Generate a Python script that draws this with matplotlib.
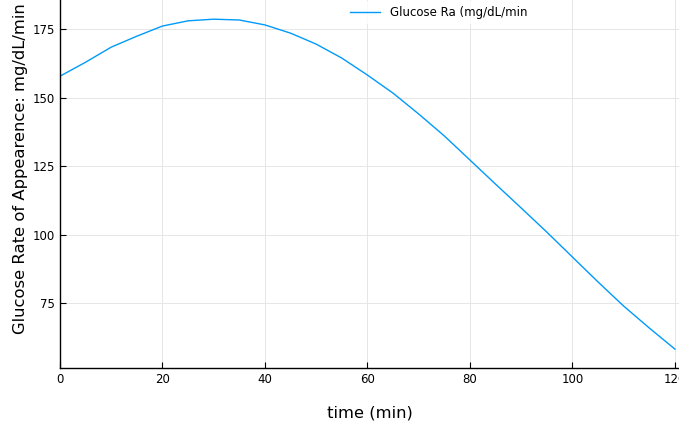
import numpy as np
import matplotlib.pyplot as plt

# values
time_min = [0, 5, 10, 15, 20, 25, 30, 35, 40, 45, 50, 55, 60,
            65, 70, 75, 80, 85, 90, 95, 100, 105, 110, 115, 120]
glucose_ra = [157.8, 162.9, 168.4, 172.4, 176.1, 178.0, 178.6, 178.3, 176.5,
              173.5, 169.5, 164.4, 158.2, 151.6, 144.0, 136.0, 127.2, 118.4,
              109.7, 100.9, 91.8, 82.7, 73.9, 65.9, 58.2]
x_ticks = [0, 20, 40, 60, 80, 100, 120]
y_ticks = [75, 100, 125, 150, 175]

fig = plt.figure(figsize=(6.79, 4.30), dpi=100)
ax = fig.add_axes([60 / 679, 62 / 430, 619 / 679, 368 / 430])

ax.plot(time_min, glucose_ra, color='#009AFA', lw=1.0, label='Glucose Ra (mg/dL/min')

ax.set_xlim(0, 120.8)
ax.set_ylim(51.3, 185.6)
ax.set_xticks(x_ticks)
ax.set_yticks(y_ticks)
ax.tick_params(direction='in', length=4, width=0.8, labelsize=8.5, colors='black')
ax.grid(True, color='#e6e6e6', lw=0.7)
ax.set_axisbelow(True)
for s in ['top', 'right']:
    ax.spines[s].set_visible(False)
for s in ['left', 'bottom']:
    ax.spines[s].set_linewidth(1.0)

ax.set_xlabel('time (min)', fontsize=11.8, labelpad=14)
ax.set_ylabel('Glucose Rate of Appearence: mg/dL/min', fontsize=11.8, va='center')
ax.yaxis.set_label_coords((21 - 60) / 619, (368 - 169) / 368)

leg = ax.legend(loc='upper left', bbox_to_anchor=(345 / 679, 0.997),
                bbox_transform=fig.transFigure, fontsize=8.5, frameon=True,
                fancybox=False, edgecolor='white', handlelength=2.6,
                borderaxespad=0.0)
leg.get_frame().set_linewidth(0)

fig.savefig('out.png', dpi=100)
